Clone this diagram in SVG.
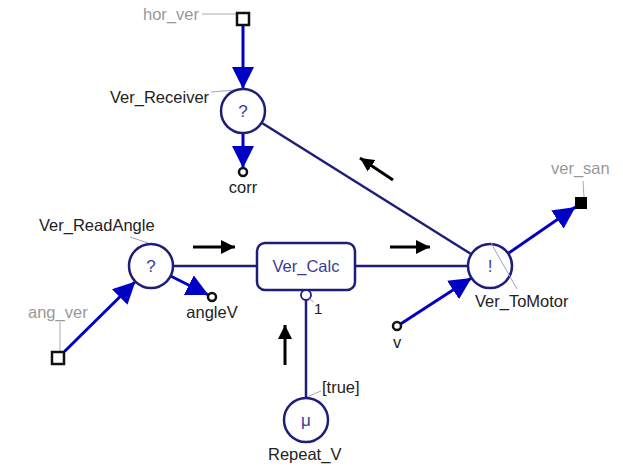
<svg xmlns="http://www.w3.org/2000/svg" width="623" height="466" viewBox="0 0 623 466">
<style>
text{font-family:"Liberation Sans",Arial,sans-serif;font-size:16.5px;fill:#222}
.gray{fill:#999}
.inner{fill:#3a3a9a;font-size:17px}
.node{fill:#fff;stroke:#1e1e7a;stroke-width:2.5}
.nav{stroke:#1e1e7a;stroke-width:2.5;fill:none}
.blue{stroke:#0000c4;stroke-width:3;fill:none;marker-end:url(#ab)}
.mv{stroke:#000;stroke-width:3;fill:none;marker-end:url(#ak)}
.lead{stroke:#aaa;stroke-width:1;fill:none}
.leadb{stroke:#a0a0c8;stroke-width:1;fill:none}
.port{fill:#fff;stroke:#111;stroke-width:2.5}
</style>
<defs>
<marker id="ab" markerUnits="userSpaceOnUse" markerWidth="22" markerHeight="22" refX="22" refY="11" orient="auto" viewBox="0 0 22 22"><path d="M0,0 L22,11 L0,22 z" fill="#0000c4"/></marker>
<marker id="ak" markerUnits="userSpaceOnUse" markerWidth="14" markerHeight="14" refX="14" refY="7" orient="auto" viewBox="0 0 14 14"><path d="M0,0 L14,7 L0,14 z" fill="#000"/></marker>
</defs>
<rect width="623" height="466" fill="#fff"/>

<g id="connectors">
<line class="nav" x1="261.6" y1="122.7" x2="471.4" y2="254.3"/>
<line class="nav" x1="173" y1="266" x2="257" y2="266"/>
<line class="nav" x1="355" y1="266" x2="468" y2="266"/>
<line class="nav" x1="306" y1="300" x2="306" y2="398"/>
<line class="blue" x1="243" y1="25" x2="243" y2="89"/>
<line class="blue" x1="243" y1="133" x2="243" y2="168"/>
<line class="blue" x1="64.5" y1="351.5" x2="135.4" y2="281.5"/>
<line class="blue" x1="170.6" y1="276" x2="208.5" y2="295"/>
<line class="blue" x1="508" y1="253.5" x2="575.5" y2="207"/>
<line class="blue" x1="400.5" y1="324" x2="471.5" y2="278"/>
<line class="mv" x1="193" y1="247" x2="235" y2="247"/>
<line class="mv" x1="390" y1="247" x2="430" y2="247"/>
<line class="mv" x1="393" y1="180" x2="360" y2="158"/>
<line class="mv" x1="285" y1="365" x2="285" y2="325"/>
</g>

<g id="hor_ver">
<line class="lead" x1="202" y1="14" x2="237" y2="14"/>
<rect x="237" y="13" width="12" height="12" fill="#fff" stroke="#111" stroke-width="2.5"/>
<text class="gray" x="143" y="20">hor_ver</text>
</g>

<g id="Ver_Receiver">
<line class="leadb" x1="211" y1="92" x2="236" y2="90"/>
<circle class="node" cx="243" cy="111" r="22"/>
<text class="inner" x="243" y="117" text-anchor="middle">?</text>
<text x="110" y="103">Ver_Receiver</text>
</g>

<g id="corr">
<circle class="port" cx="243" cy="172" r="4"/>
<text x="243" y="193" text-anchor="middle">corr</text>
</g>

<g id="Ver_ReadAngle">
<line class="leadb" x1="130" y1="237" x2="148" y2="243"/>
<circle class="node" cx="151" cy="266" r="22"/>
<text class="inner" x="151" y="272" text-anchor="middle">?</text>
<text x="39" y="231">Ver_ReadAngle</text>
</g>

<g id="ang_ver">
<line class="lead" x1="60" y1="322" x2="60" y2="352"/>
<rect x="52" y="352" width="12" height="12" fill="#fff" stroke="#111" stroke-width="2.5"/>
<text class="gray" x="28" y="318">ang_ver</text>
</g>

<g id="angleV">
<circle class="port" cx="212" cy="297" r="4"/>
<text x="212" y="318" text-anchor="middle">angleV</text>
</g>

<g id="Ver_Calc">
<rect x="257" y="243" width="98" height="47" rx="8" fill="#fff" stroke="#1e1e7a" stroke-width="2.5"/>
<text x="306" y="272" text-anchor="middle" style="fill:#3a3a9a">Ver_Calc</text>
<circle cx="306" cy="295" r="5" fill="#fff" stroke="#1e1e7a" stroke-width="1.8"/>
<line class="lead" x1="309" y1="299" x2="314" y2="302"/>
<text x="314" y="314" style="font-size:15px">1</text>
</g>

<g id="Ver_ToMotor">
<circle class="node" cx="490" cy="266" r="22"/>
<line class="leadb" x1="491" y1="243" x2="517" y2="289"/>
<text class="inner" x="490" y="272" text-anchor="middle">!</text>
<text x="475" y="307">Ver_ToMotor</text>
</g>

<g id="ver_san">
<line class="lead" x1="583" y1="181" x2="584" y2="197"/>
<rect x="575" y="197" width="12" height="12" fill="#000"/>
<text class="gray" x="551" y="174">ver_san</text>
</g>

<g id="v">
<circle class="port" cx="397" cy="326" r="4"/>
<text x="397" y="348" text-anchor="middle">v</text>
</g>

<g id="Repeat_V">
<line class="lead" x1="307" y1="397" x2="321" y2="391"/>
<circle class="node" cx="306" cy="420" r="22"/>
<text class="inner" x="306" y="426" text-anchor="middle">μ</text>
<text x="322" y="393">[true]</text>
<text x="268" y="460">Repeat_V</text>
</g>
</svg>
